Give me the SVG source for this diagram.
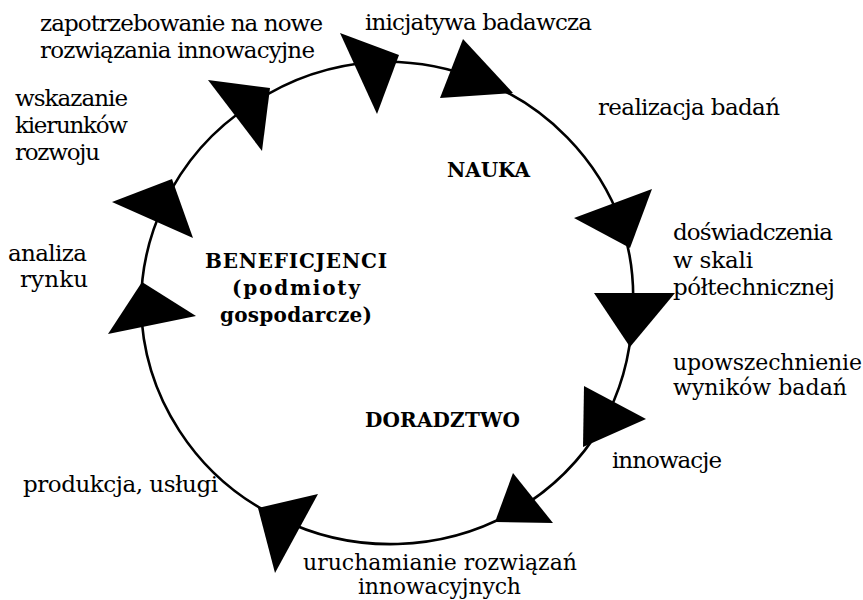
<svg xmlns="http://www.w3.org/2000/svg" width="863" height="600" viewBox="0 0 863 600">
<style>
  .lbl { font-family: "DejaVu Serif", "Liberation Serif", serif; font-size: 23px; fill: #000; }
  .tight { font-size: 22px; }
  .hdr { font-family: "DejaVu Serif", "Liberation Serif", serif; font-size: 20px; font-weight: bold; fill: #000; }
  .arc { fill: none; stroke: #000; stroke-width: 2.6; }
  .head { fill: #000; stroke: none; }
</style>
<rect width="863" height="600" fill="#fff"/>
<g id="connectors">
  <path class="arc" d="M375,62 A246,241 0 0 1 480,80"/>
  <path class="arc" d="M480,80 A246,241 0 0 1 622,225"/>
  <path class="arc" d="M622,225 A246,241 0 0 1 632,320"/>
  <path class="arc" d="M632,320 A246,241 0 0 1 602,425"/>
  <path class="arc" d="M602,425 A246,241 0 0 1 515,511"/>
  <path class="arc" d="M515,511 A246,241 0 0 1 279,518"/>
  <path class="arc" d="M279,518 A246,241 0 0 1 141,305"/>
  <path class="arc" d="M141,305 A246,241 0 0 1 164,204"/>
  <path class="arc" d="M164,204 A246,241 0 0 1 252,104"/>
  <path class="arc" d="M252,104 A246,241 0 0 1 375,62"/>
  <polygon class="head" points="340,33 399,55 377,114"/>
  <polygon class="head" points="463,39 513,93 440,98"/>
  <polygon class="head" points="574,218 652,189 630,248"/>
  <polygon class="head" points="594,293 675,293 630,347"/>
  <polygon class="head" points="584,386 646,419 583,447"/>
  <polygon class="head" points="513,473 553,523 495,522"/>
  <polygon class="head" points="258,508 318,494 275,573"/>
  <polygon class="head" points="142,282 196,316 108,334"/>
  <polygon class="head" points="112,202 172,179 193,238"/>
  <polygon class="head" points="208,80 270,88 262,151"/>
</g>
<g id="node-zapotrzebowanie">
  <text class="lbl" x="40" y="31" textLength="283">zapotrzebowanie na nowe</text>
  <text class="lbl" x="40" y="58" textLength="275">rozwiązania innowacyjne</text>
</g>
<g id="node-inicjatywa">
  <text class="lbl" x="365" y="30" textLength="227">inicjatywa badawcza</text>
</g>
<g id="node-realizacja">
  <text class="lbl" x="598" y="115" textLength="182">realizacja badań</text>
</g>
<g id="node-nauka">
  <text class="hdr" x="447" y="177" textLength="83">NAUKA</text>
</g>
<g id="node-doswiadczenia">
  <text class="lbl" x="673" y="240" textLength="160">doświadczenia</text>
  <text class="lbl" x="673" y="268" textLength="80">w skali</text>
  <text class="lbl" x="673" y="295" textLength="162">półtechnicznej</text>
</g>
<g id="node-upowszechnienie">
  <text class="lbl tight" x="673" y="370" textLength="189">upowszechnienie</text>
  <text class="lbl tight" x="673" y="395" textLength="174">wyników badań</text>
</g>
<g id="node-doradztwo">
  <text class="hdr" x="365" y="427" textLength="155">DORADZTWO</text>
</g>
<g id="node-innowacje">
  <text class="lbl" x="612" y="468" textLength="110">innowacje</text>
</g>
<g id="node-uruchamianie">
  <text class="lbl tight" x="303" y="570" textLength="274">uruchamianie rozwiązań</text>
  <text class="lbl tight" x="358" y="594" textLength="163">innowacyjnych</text>
</g>
<g id="node-produkcja">
  <text class="lbl" x="23" y="492" textLength="195">produkcja, usługi</text>
</g>
<g id="node-analiza">
  <text class="lbl" x="8" y="261" textLength="79">analiza</text>
  <text class="lbl" x="20" y="287" textLength="68">rynku</text>
</g>
<g id="node-wskazanie">
  <text class="lbl" x="15" y="106" textLength="113">wskazanie</text>
  <text class="lbl" x="15" y="133" textLength="113">kierunków</text>
  <text class="lbl" x="15" y="160" textLength="85">rozwoju</text>
</g>
<g id="node-beneficjenci">
  <text class="hdr" x="296" y="268" text-anchor="middle" textLength="182">BENEFICJENCI</text>
  <text class="hdr" x="296" y="295" text-anchor="middle" textLength="128">(podmioty</text>
  <text class="hdr" x="296" y="322" text-anchor="middle" textLength="152">gospodarcze)</text>
</g>
</svg>
